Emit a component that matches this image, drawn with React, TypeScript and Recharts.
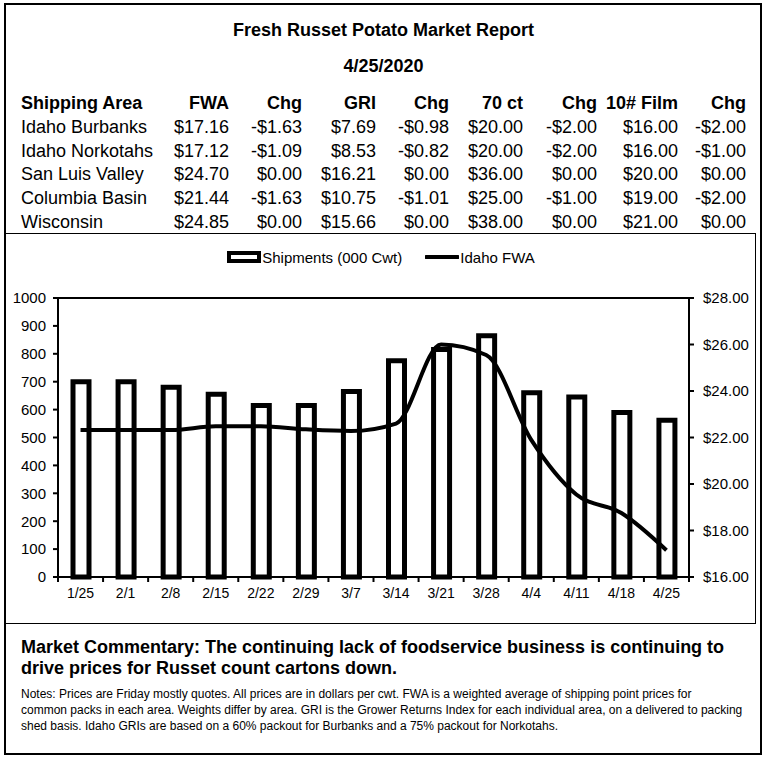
import { Bar, ComposedChart, Legend, Line, ReferenceLine, XAxis, YAxis } from 'recharts';

// weekly series
const weeks = ['1/25', '2/1', '2/8', '2/15', '2/22', '2/29', '3/7', '3/14', '3/21', '3/28', '4/4', '4/11', '4/18', '4/25'];
const shipments = [700, 700, 680, 655, 615, 615, 665, 775, 815, 865, 660, 645, 590, 562];
const idahoFwa = [22.32, 22.32, 22.32, 22.48, 22.48, 22.35, 22.28, 22.6, 26.0, 25.55, 21.9, 19.55, 18.75, 17.15];

const leftTicks = [0, 100, 200, 300, 400, 500, 600, 700, 800, 900, 1000];
const rightTicks = [16, 18, 20, 22, 24, 26, 28];

// price table
const headers = ['Shipping Area', 'FWA', 'Chg', 'GRI', 'Chg', '70 ct', 'Chg', '10# Film', 'Chg'];
const areas = ['Idaho Burbanks', 'Idaho Norkotahs', 'San Luis Valley', 'Columbia Basin', 'Wisconsin'];
const fwa = ['$17.16', '$17.12', '$24.70', '$21.44', '$24.85'];
const fwaChg = ['-$1.63', '-$1.09', '$0.00', '-$1.63', '$0.00'];
const gri = ['$7.69', '$8.53', '$16.21', '$10.75', '$15.66'];
const griChg = ['-$0.98', '-$0.82', '$0.00', '-$1.01', '$0.00'];
const ct70 = ['$20.00', '$20.00', '$36.00', '$25.00', '$38.00'];
const ct70Chg = ['-$2.00', '-$2.00', '$0.00', '-$1.00', '$0.00'];
const film = ['$16.00', '$16.00', '$20.00', '$19.00', '$21.00'];
const filmChg = ['-$2.00', '-$1.00', '$0.00', '-$2.00', '$0.00'];

const FONT = '"Liberation Sans", Arial, sans-serif';
const COL_RIGHT = [229, 302, 376, 449, 523, 597, 678, 746];
const ROW_H = 23.8;

const data = weeks.map((w, i) => ({ week: w, shipments: shipments[i], fwa: idahoFwa[i] }));

function WeekTick(props: any) {
  const { x, y, payload, index, visibleTicksCount } = props;
  const half = payload?.offset || 22.5;
  const last = index === visibleTicksCount - 1;
  return (
    <g>
      <line x1={x - half} x2={x - half} y1={y - 11} y2={y - 6} stroke="#000" strokeWidth={2} />
      {last && <line x1={x + half} x2={x + half} y1={y - 11} y2={y - 6} stroke="#000" strokeWidth={2} />}
      <text x={x} y={y} dy={10} textAnchor="middle" fontSize={14} fill="#000">
        {payload.value}
      </text>
    </g>
  );
}

function LegendBox() {
  return (
    <div style={{ height: 20, display: 'flex', justifyContent: 'center', alignItems: 'center', fontSize: 15, color: '#000' }}>
      <svg width={34} height={12} style={{ marginRight: 1 }}>
        <rect x={2} y={2} width={30} height={8} fill="#fff" stroke="#000" strokeWidth={4} />
      </svg>
      <span>Shipments (000 Cwt)</span>
      <svg width={34} height={6} style={{ marginLeft: 23, marginRight: 1 }}>
        <line x1={1} x2={33} y1={3} y2={3} stroke="#000" strokeWidth={4} strokeLinecap="round" />
      </svg>
      <span>Idaho FWA</span>
    </div>
  );
}

export default function App() {
  const columns = [fwa, fwaChg, gri, griChg, ct70, ct70Chg, film, filmChg];
  return (
    <div style={{ position: 'absolute', left: 0, top: 0, width: 767, height: 762, background: '#fff', fontFamily: FONT, color: '#000' }}>
      {/* outer frame */}
      <div style={{ position: 'absolute', left: 4, top: 3, width: 754, height: 748, border: '2px solid #000' }} />

      <div style={{ position: 'absolute', left: 0, top: 20, width: 767, textAlign: 'center', fontSize: 18, fontWeight: 'bold', lineHeight: '20px' }}>
        Fresh Russet Potato Market Report
      </div>
      <div style={{ position: 'absolute', left: 0, top: 55.5, width: 767, textAlign: 'center', fontSize: 18, fontWeight: 'bold', lineHeight: '20px' }}>
        4/25/2020
      </div>

      {/* table */}
      <div style={{ position: 'absolute', left: 0, top: 92, width: 767, fontSize: 18, lineHeight: `${ROW_H}px`, whiteSpace: 'nowrap' }}>
        {headers.map((h, c) => (
          <span
            key={'h' + c}
            style={
              c === 0
                ? { position: 'absolute', left: 21, top: 0, fontWeight: 'bold' }
                : { position: 'absolute', left: COL_RIGHT[c - 1] - 100, width: 100, textAlign: 'right', top: 0, fontWeight: 'bold' }
            }
          >
            {h}
          </span>
        ))}
        {areas.map((a, r) => (
          <div key={a}>
            <span style={{ position: 'absolute', left: 21, top: (r + 1) * ROW_H }}>{a}</span>
            {columns.map((col, c) => (
              <span
                key={c}
                style={{ position: 'absolute', left: COL_RIGHT[c] - 100, width: 100, textAlign: 'right', top: (r + 1) * ROW_H }}
              >
                {col[r]}
              </span>
            ))}
          </div>
        ))}
      </div>

      {/* chart frame */}
      <div style={{ position: 'absolute', left: 4, top: 233, width: 750, height: 389, border: '1.5px solid #000' }} />
      <div style={{ position: 'absolute', left: 6, top: 234 }}>
        <ComposedChart width={748} height={388} data={data} margin={{ top: 44, right: 5, bottom: 15, left: 7 }} style={{ fontFamily: FONT }}>
          <Legend verticalAlign="top" wrapperStyle={{ top: 13 }} content={() => <LegendBox />} />
          <XAxis
            dataKey="week"
            height={30}
            axisLine={{ stroke: '#000', strokeWidth: 2 }}
            tickLine={false}
            tickSize={5}
            tickMargin={6}
            interval={0}
            tick={<WeekTick />}
          />
          <YAxis
            yAxisId="left"
            domain={[0, 1000]}
            ticks={leftTicks}
            width={45}
            axisLine={{ stroke: '#000', strokeWidth: 2 }}
            tickLine={{ stroke: '#000', strokeWidth: 2 }}
            tickSize={5}
            tickMargin={7}
            tick={{ fill: '#000', fontSize: 15 }}
            interval={0}
          />
          <YAxis
            yAxisId="right"
            orientation="right"
            domain={[16, 28]}
            ticks={rightTicks}
            width={60}
            axisLine={{ stroke: '#000', strokeWidth: 2 }}
            tickLine={{ stroke: '#000', strokeWidth: 2 }}
            tickSize={5}
            tickMargin={9}
            tick={{ fill: '#000', fontSize: 15 }}
            tickFormatter={(v: number) => `$${v.toFixed(2)}`}
            interval={0}
          />
          <ReferenceLine yAxisId="left" y={1000} stroke="#000" strokeWidth={2} />
          <Bar yAxisId="left" dataKey="shipments" barSize={16} fill="#fff" stroke="#000" strokeWidth={5} isAnimationActive={false} />
          <Line
            yAxisId="right"
            dataKey="fwa"
            type="monotone"
            stroke="#000"
            strokeWidth={4}
            dot={false}
            activeDot={false}
            isAnimationActive={false}
          />
        </ComposedChart>
      </div>

      {/* commentary */}
      <div style={{ position: 'absolute', left: 21, top: 637, fontSize: 18, fontWeight: 'bold', lineHeight: '21px', whiteSpace: 'nowrap' }}>
        Market Commentary: The continuing lack of foodservice business is continuing to
        <br />
        drive prices for Russet count cartons down.
      </div>
      <div style={{ position: 'absolute', left: 21, top: 687, fontSize: 12, lineHeight: '15.8px', whiteSpace: 'nowrap' }}>
        Notes: Prices are Friday mostly quotes. All prices are in dollars per cwt. FWA is a weighted average of shipping point prices for
        <br />
        common packs in each area. Weights differ by area. GRI is the Grower Returns Index for each individual area, on a delivered to packing
        <br />
        shed basis. Idaho GRIs are based on a 60% packout for Burbanks and a 75% packout for Norkotahs.
      </div>
    </div>
  );
}
